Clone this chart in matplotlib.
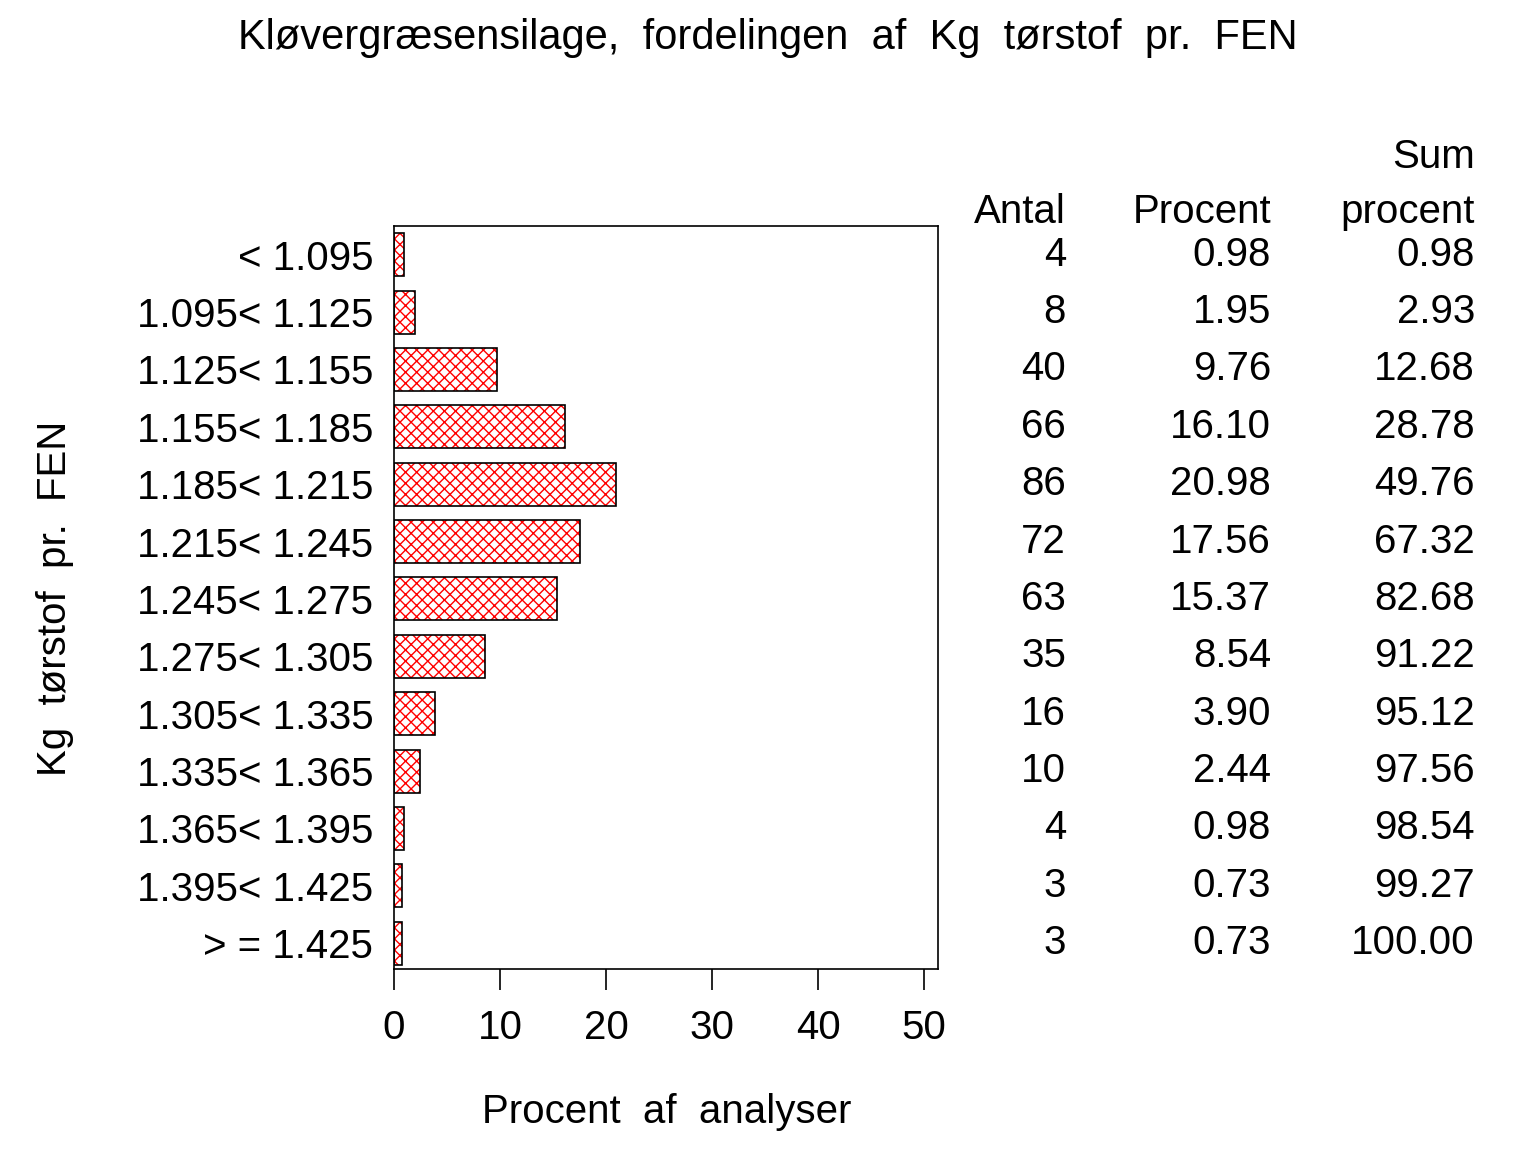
import matplotlib
matplotlib.use("Agg")
import matplotlib.pyplot as plt
import matplotlib.transforms as mtransforms
import numpy as np

plt.rcParams['font.family'] = ['Liberation Sans', 'DejaVu Sans']

categories = ["< 1.095", "1.095< 1.125", "1.125< 1.155", "1.155< 1.185", "1.185< 1.215",
              "1.215< 1.245", "1.245< 1.275", "1.275< 1.305", "1.305< 1.335", "1.335< 1.365",
              "1.365< 1.395", "1.395< 1.425", "> = 1.425"]
antal = [4, 8, 40, 66, 86, 72, 63, 35, 16, 10, 4, 3, 3]
procent = [0.98, 1.95, 9.76, 16.10, 20.98, 17.56, 15.37, 8.54, 3.90, 2.44, 0.98, 0.73, 0.73]
sum_procent = [0.98, 2.93, 12.68, 28.78, 49.76, 67.32, 82.68, 91.22, 95.12, 97.56, 98.54, 99.27, 100.00]
xticks = [0, 10, 20, 30, 40, 50]

FS = 29

fig = plt.figure(figsize=(15.36, 11.52), dpi=100)
ax = fig.add_axes([0.2565, 0.1589, 0.3542, 0.6449])

y = np.arange(len(categories))
ax.barh(y, procent, height=0.75, color='none', edgecolor='red', hatch='xxx', linewidth=0)
ax.barh(y, procent, height=0.75, color='none', edgecolor='black', linewidth=1.2)

ax.set_ylim(12.45, -0.5)
ax.set_xlim(0, 51.3)
ax.set_yticks(y)
ax.set_yticklabels(categories, fontsize=FS)
ax.tick_params(axis='y', length=0, pad=15)
ax.set_xticks(xticks)
ax.set_xticklabels([str(v) for v in xticks], fontsize=FS)
ax.tick_params(axis='x', length=15, width=1.2, pad=14, direction='out')
for s in ax.spines.values():
    s.set_linewidth(1.2)

ax.set_xlabel("Procent  af  analyser", fontsize=FS, va='center')
ax.xaxis.set_label_coords((667 - 394) / 544, (969 - 1112) / 743)
ax.set_ylabel("Kg  tørstof  pr.  FEN", fontsize=FS, va='center')
ax.yaxis.set_label_coords((55 - 394) / 544, (969 - 598) / 743)

fig.text(0.5, 1 - 38 / 1152, "Kløvergræsensilage,  fordelingen  af  Kg  tørstof  pr.  FEN",
         ha='center', va='center', fontsize=30)

blend = mtransforms.blended_transform_factory(fig.transFigure, ax.transData)
col_x = [1066, 1271, 1475]
for i in range(len(categories)):
    vals = [f"{antal[i]}", f"{procent[i]:.2f}", f"{sum_procent[i]:.2f}"]
    for cx, val in zip(col_x, vals):
        ax.text(cx / 1536, y[i], val, fontsize=FS, ha='right', va='center',
                transform=blend, clip_on=False)

fig.text(1066 / 1536, 1 - 212 / 1152, "Antal", fontsize=FS, ha='right', va='center')
fig.text(1271 / 1536, 1 - 212 / 1152, "Procent", fontsize=FS, ha='right', va='center')
fig.text(1475 / 1536, 1 - 157 / 1152, "Sum", fontsize=FS, ha='right', va='center')
fig.text(1475 / 1536, 1 - 212 / 1152, "procent", fontsize=FS, ha='right', va='center')

fig.savefig("out.png", dpi=100)
